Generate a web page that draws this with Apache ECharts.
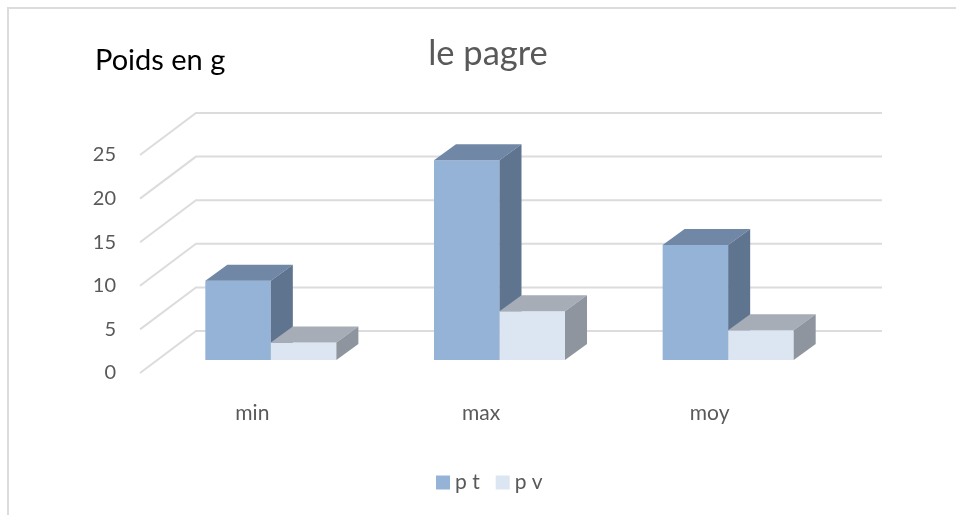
<!DOCTYPE html>
<html>
<head>
<meta charset="utf-8">
<style>html,body{margin:0;padding:0;background:#fff}#c{width:956px;height:515px}</style>
<script src="https://cdn.jsdelivr.net/npm/echarts@6/dist/echarts.min.js"></script>
</head>
<body>
<div id="c"></div>
<script>
var categories = ['min', 'max', 'moy'];
var ptValues = [9.1, 22.9, 13.2];
var pvValues = [2, 5.6, 3.4];
var yTicks = [0, 5, 10, 15, 20, 25];

var WALL = {dx: 56, dy: 42};
var GAP = {dx: 16.5, dy: 13};
var BAR = {dx: 22, dy: 16};
var BAR_RATIO = 0.2865;

function poly(points, fill) {
  return {type: 'polygon', shape: {points: points}, style: {fill: fill, stroke: null}};
}
function barRenderer(slot, front, top, side) {
  return function (params, api) {
    var i = api.value(0), v = api.value(1);
    var p = api.coord([i, v]), b = api.coord([i, 0]);
    var w = api.size([1, 0])[0] * BAR_RATIO;
    var x0 = p[0] + GAP.dx + (slot === 0 ? -w : 0);
    var x1 = x0 + w;
    var yt = p[1] - GAP.dy, yb = b[1] - GAP.dy;
    return {
      type: 'group',
      children: [
        poly([[x0, yt], [x1, yt], [x1, yb], [x0, yb]], front),
        poly([[x0, yt], [x0 + BAR.dx, yt - BAR.dy], [x1 + BAR.dx, yt - BAR.dy], [x1, yt]], top),
        poly([[x1, yt], [x1 + BAR.dx, yt - BAR.dy], [x1 + BAR.dx, yb - BAR.dy], [x1, yb]], side)
      ]
    };
  };
}
function gridRenderer(params, api) {
  var y = api.coord([0, api.value(0)])[1];
  var cs = params.coordSys;
  return {
    type: 'polyline',
    shape: {points: [[cs.x, y], [cs.x + WALL.dx, y - WALL.dy], [cs.x + cs.width + WALL.dx, y - WALL.dy]]},
    style: {fill: null, stroke: '#dcdcdc', lineWidth: 2}
  };
}

var chart = echarts.init(document.getElementById('c'), null, {renderer: 'canvas'});
chart.setOption({
  animation: false,
  backgroundColor: '#fff',
  textStyle: {fontFamily: 'Lato'},
  title: [
    {text: 'le pagre', left: 483, top: 31, textAlign: 'center',
     textStyle: {fontFamily: 'Lato', fontSize: 34.5, fontWeight: 'normal', color: '#595959'}},
    {text: 'Poids en g', left: 90, top: 41,
     textStyle: {fontFamily: 'Lato', fontSize: 29, fontWeight: 'normal', color: '#000'}}
  ],
  legend: {
    left: 436, top: 472, padding: 0, icon: 'rect', itemWidth: 14, itemHeight: 14, itemGap: 16,
    data: ['p t', 'p v'],
    textStyle: {fontFamily: 'Lato', fontSize: 21, color: '#595959'}
  },
  grid: {left: 140, right: 130, top: 155, bottom: 142},
  xAxis: {
    type: 'category', data: categories,
    axisLine: {show: false}, axisTick: {show: false}, splitLine: {show: false},
    axisLabel: {margin: 30, padding: [0, 4, 0, 0], fontFamily: 'Lato', fontSize: 21, color: '#595959'}
  },
  yAxis: {
    type: 'value', min: 0, max: 25, interval: 5,
    axisLine: {show: false}, axisTick: {show: false}, splitLine: {show: false},
    axisLabel: {margin: 24, fontFamily: 'Lato', fontSize: 20, color: '#595959'}
  },
  series: [
    {type: 'custom', silent: true, z: 1, renderItem: gridRenderer,
     data: yTicks.map(function (t) { return [t]; }), encode: {y: 0}, clip: false},
    {type: 'custom', name: 'p t', z: 2, renderItem: barRenderer(0, '#95b3d7', '#7087a6', '#5f748e'),
     itemStyle: {color: '#95b3d7'}, clip: false,
     data: ptValues.map(function (v, i) { return [i, v]; }), encode: {x: 0, y: 1}},
    {type: 'custom', name: 'p v', z: 3, renderItem: barRenderer(1, '#dce6f2', '#a6adb7', '#8e959e'),
     itemStyle: {color: '#dce6f2'}, clip: false,
     data: pvValues.map(function (v, i) { return [i, v]; }), encode: {x: 0, y: 1}}
  ],
  graphic: [
    {type: 'polyline', silent: true, z: 10,
     shape: {points: [[8, 515], [8, 8], [956, 8]]},
     style: {fill: null, stroke: '#dcdcdc', lineWidth: 2}}
  ]
});
</script>
</body>
</html>
